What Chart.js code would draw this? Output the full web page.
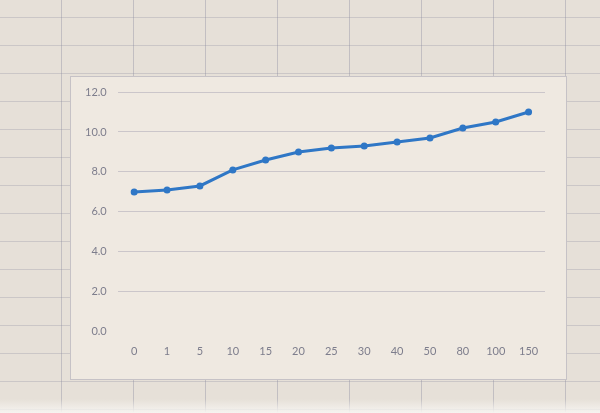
<!DOCTYPE html>
<html>
<head>
<meta charset="utf-8">
<script src="https://cdn.jsdelivr.net/npm/chart.js@4.4.0/dist/chart.umd.min.js"></script>
<style>
    html, body { margin: 0; padding: 0; }
    body {
        width: 600px;
        height: 413px;
        overflow: hidden;
        position: relative;
        background-color: #e6e0d8;
        /* spreadsheet cells behind the chart */
        background-image:
            repeating-linear-gradient(90deg, transparent 0 61px, rgba(140,140,160,.4) 61px 62px, transparent 62px 72px),
            repeating-linear-gradient(180deg, transparent 0 17px, rgba(140,140,160,.3) 17px 18px, transparent 18px 28px);
    }
    .chart-box {
        position: absolute;
        left: 70px;
        top: 76px;
        width: 495px;
        height: 302px;
        background: #efe9e1;
        border: 1px solid #c6c2c6;
    }
    .bottom-glow {
        position: absolute;
        left: 0; right: 0; bottom: 0;
        height: 14px;
        background: linear-gradient(180deg, rgba(245,243,238,0), #f6f4f0);
    }
    canvas { position: absolute; left: 0; top: 0; }
</style>
</head>
<body>
<div class="chart-box"></div>
<div class="bottom-glow"></div>
<canvas id="line-chart" width="600" height="413"></canvas>
<script>
// 資料
const xLabels = ['0', '1', '5', '10', '15', '20', '25', '30', '40', '50', '80', '100', '150'];
const values = [7.0, 7.1, 7.3, 8.1, 8.6, 9.0, 9.2, 9.3, 9.5, 9.7, 10.2, 10.5, 11.0];
const yMin = 0;
const yMax = 12;
const yStep = 2;

const lineColor = '#2f77c6';
const tickColor = '#7d7d8c';

new Chart(document.getElementById('line-chart'), {
    type: 'line',
    data: {
        labels: xLabels,
        datasets: [{
            data: values,
            borderColor: lineColor,
            backgroundColor: lineColor,
            borderWidth: 3,
            pointRadius: 3.5,
            pointBorderWidth: 0,
            pointBackgroundColor: lineColor,
            tension: 0
        }]
    },
    options: {
        responsive: false,
        animation: false,
        layout: {
            padding: { left: 74, right: 55, top: 92, bottom: 50 }
        },
        plugins: {
            legend: { display: false },
            tooltip: { enabled: false }
        },
        scales: {
            x: {
                offset: true,
                grid: { display: false },
                border: { display: false },
                ticks: {
                    color: tickColor,
                    padding: 5,
                    maxRotation: 0,
                    font: { family: 'Lato', size: 11 }
                }
            },
            y: {
                min: yMin,
                max: yMax,
                border: { display: false },
                grid: {
                    drawTicks: false,
                    lineWidth: 1,
                    color: ctx => ctx.tick && ctx.tick.value === 0 ? 'rgba(0,0,0,0)' : 'rgba(160,155,175,0.45)'
                },
                ticks: {
                    stepSize: yStep,
                    color: tickColor,
                    padding: 11,
                    font: { family: 'Lato', size: 11 },
                    callback: v => v.toFixed(1)
                }
            }
        }
    }
});
</script>
</body>
</html>
